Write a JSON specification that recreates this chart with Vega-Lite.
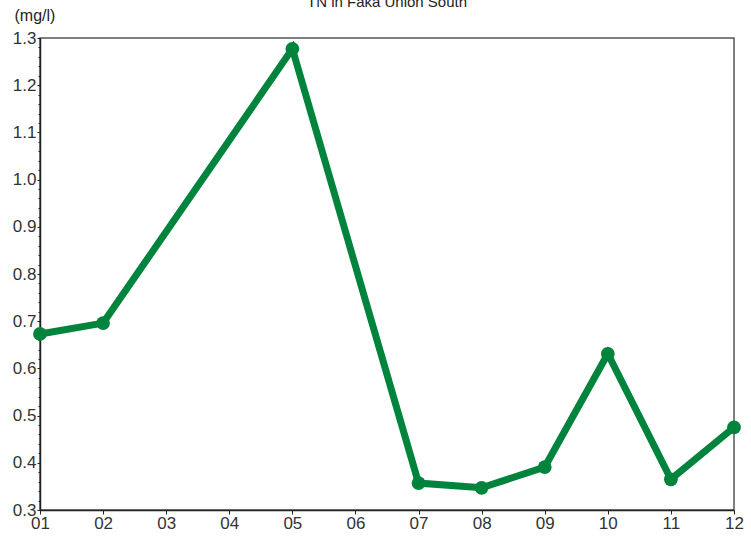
{
  "$schema": "https://vega.github.io/schema/vega-lite/v6.json",
  "width": 694,
  "height": 472,
  "autosize": {"type": "none"},
  "padding": {"left": 40, "top": 38, "right": 17, "bottom": 30},
  "background": "white",
  "title": {"text": "TN in Faka Union South", "font": "Liberation Sans", "fontSize": 15, "fontWeight": "normal", "color": "#222", "anchor": "middle", "offset": -2, "dy": 13, "baseline": "alphabetic"},
  "config": {
    "view": {"stroke": "#555", "strokeWidth": 1.5},
    "font": "Liberation Sans"
  },
  "data": {"values": [
    {"month": 1, "tn": 0.673},
    {"month": 2, "tn": 0.696},
    {"month": 5, "tn": 1.277},
    {"month": 7, "tn": 0.357},
    {"month": 8, "tn": 0.347},
    {"month": 9, "tn": 0.391},
    {"month": 10, "tn": 0.631},
    {"month": 11, "tn": 0.365},
    {"month": 12, "tn": 0.475}
  ]},
  "encoding": {
    "x": {"field": "month", "type": "quantitative", "scale": {"domain": [1, 12], "nice": false, "zero": false},
      "axis": {"values": [1,2,3,4,5,6,7,8,9,10,11,12], "title": null, "grid": false, "labelExpr": "datum.value < 10 ? '0' + datum.value : '' + datum.value", "labelFontSize": 17, "labelColor": "#333", "labelFont": "Liberation Sans", "tickSize": 4, "tickColor": "#222", "domainColor": "#222", "domainWidth": 1.5, "labelPadding": 1, "labelFlush": false}},
    "y": {"field": "tn", "type": "quantitative", "scale": {"domain": [0.3, 1.3], "nice": false, "zero": false}}
  },
  "layer": [
    {
      "mark": {"type": "line", "color": "#00843D", "strokeWidth": 7},
      "encoding": {
        "y": {"field": "tn", "type": "quantitative",
          "axis": {"values": [0.3,0.4,0.5,0.6,0.7,0.8,0.9,1.0,1.1,1.2,1.3], "format": ".1f", "title": "(mg/l)", "titleAngle": 0, "titleAlign": "left", "titleBaseline": "alphabetic", "titleX": -26, "titleY": -18, "titleFontSize": 16, "titleFontWeight": "normal", "titleColor": "#222", "titleFont": "Liberation Sans", "grid": false, "labelFontSize": 17, "labelColor": "#333", "labelFont": "Liberation Sans", "tickSize": 3, "tickColor": "#222", "domainColor": "#222", "domainWidth": 1.5, "labelPadding": 1, "labelFlush": false}}
      }
    },
    {
      "mark": {"type": "point", "filled": true, "color": "#00843D", "size": 190, "opacity": 1},
      "encoding": {
        "y": {"field": "tn", "type": "quantitative",
          "axis": {"values": [0.32,0.34,0.36,0.38,0.42,0.44,0.46,0.48,0.52,0.54,0.56,0.58,0.62,0.64,0.66,0.68,0.72,0.74,0.76,0.78,0.82,0.84,0.86,0.88,0.92,0.94,0.96,0.98,1.02,1.04,1.06,1.08,1.12,1.14,1.16,1.18,1.22,1.24,1.26,1.28], "orient": "left", "labels": false, "domain": false, "title": null, "grid": false, "tickSize": 2, "tickColor": "#222"}}
      }
    }
  ],
  "resolve": {"axis": {"y": "independent"}}
}
